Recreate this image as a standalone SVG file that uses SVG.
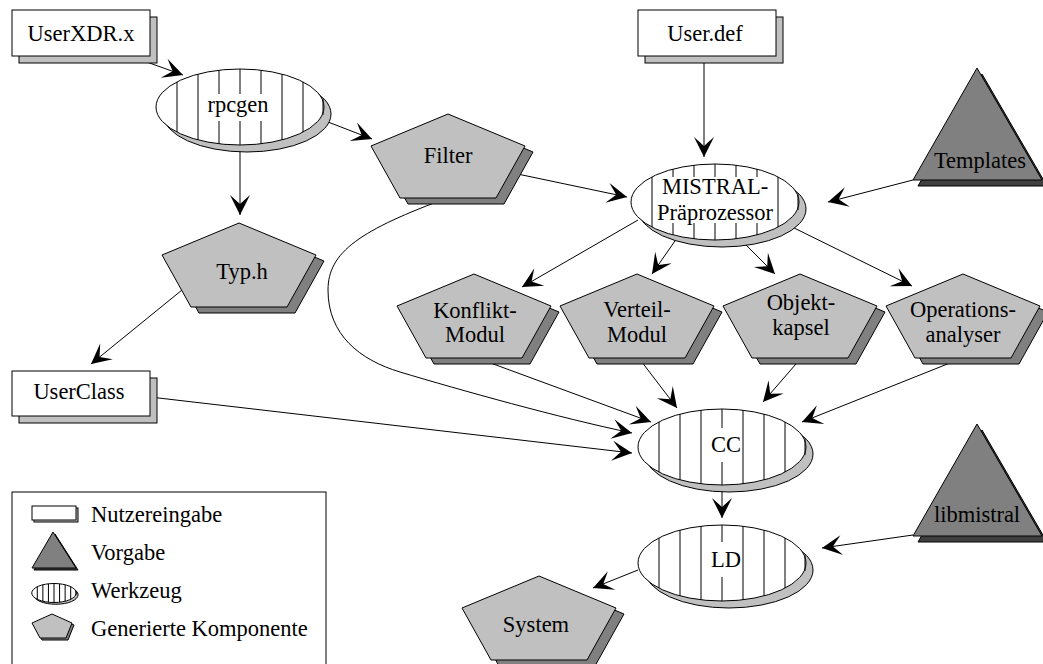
<svg xmlns="http://www.w3.org/2000/svg" xmlns:xlink="http://www.w3.org/1999/xlink" width="1043" height="664" viewBox="0 0 1043 664">
<style>
.t{font-family:"Liberation Serif","Times New Roman",serif;font-size:22.5px;text-anchor:middle;fill:#000}
.lt{font-family:"Liberation Serif","Times New Roman",serif;font-size:22.5px;fill:#000}
.box{fill:#fff;stroke:#000;stroke-width:1}
.bsh{fill:#c0c0c0;stroke:#000;stroke-width:1}
.pm{fill:#c0c0c0;stroke:#000;stroke-width:1}
.psh{fill:#808080;stroke:#000;stroke-width:1}
.tm{fill:#808080;stroke:#000;stroke-width:1}
.tsh{fill:#404040;stroke:#000;stroke-width:1}
.wb{fill:#fff;stroke:none}
.c{fill:none;stroke:#000;stroke-width:1;marker-end:url(#ah)}
</style>
<defs>
<marker id="ah" markerUnits="userSpaceOnUse" markerWidth="22" markerHeight="22" viewBox="-21 -11 22 22" refX="0" refY="0" orient="auto">
<path d="M0,0 L-20,-10 L-11,0 L-20,10 Z" fill="#000"/>
</marker>
<polygon id="pent" points="0,0 77,32 48,84 -48,84 -77,32"/>
<polygon id="tri" points="0,0 65,112 -64,112"/>
<g id="tool">
<ellipse cx="7" cy="7" rx="84" ry="38" fill="#c0c0c0" stroke="#000" vector-effect="non-scaling-stroke"/>
<ellipse cx="0" cy="0" rx="84" ry="38" fill="#fff" stroke="#000" vector-effect="non-scaling-stroke"/>
<path d="M-63,-25.1V25.1M-42,-32.9V32.9M-21,-36.8V36.8M0,-38V38M21,-36.8V36.8M42,-32.9V32.9M63,-25.1V25.1M83,-8V8" fill="none" stroke="#000" vector-effect="non-scaling-stroke"/>
</g>
</defs>

<g id="connectors">
<line class="c" x1="130" y1="56" x2="183" y2="75"/>
<line class="c" x1="240" y1="146" x2="240" y2="215"/>
<line class="c" x1="328" y1="122" x2="372" y2="139"/>
<line class="c" x1="508" y1="172" x2="627" y2="197"/>
<path class="c" d="M450,197 C360,230 328,252 328,290 C328,335 360,360 400,372 C460,390 560,418 632,433"/>
<line class="c" x1="704" y1="56" x2="704" y2="157"/>
<line class="c" x1="913" y1="180" x2="828" y2="202"/>
<line class="c" x1="182" y1="290" x2="91" y2="364"/>
<line class="c" x1="150" y1="397" x2="632" y2="453"/>
<line class="c" x1="638" y1="220" x2="522" y2="287"/>
<line class="c" x1="677" y1="238" x2="652" y2="274"/>
<line class="c" x1="743" y1="242" x2="775" y2="274"/>
<line class="c" x1="788" y1="225" x2="912" y2="286"/>
<line class="c" x1="477" y1="358" x2="651" y2="422"/>
<line class="c" x1="638" y1="357" x2="677" y2="408"/>
<line class="c" x1="802" y1="357" x2="763" y2="402"/>
<line class="c" x1="965" y1="357" x2="802" y2="422"/>
<line class="c" x1="722" y1="486" x2="722" y2="518"/>
<line class="c" x1="913" y1="535" x2="822" y2="548"/>
<line class="c" x1="638" y1="570" x2="593" y2="588"/>
</g>

<g id="userxdr">
<rect class="bsh" x="19" y="17" width="138" height="46"/>
<rect class="box" x="12" y="10" width="138" height="46"/>
<text class="t" x="81" y="41">UserXDR.x</text>
</g>

<g id="userdef">
<rect class="bsh" x="645" y="17" width="138" height="46"/>
<rect class="box" x="638" y="10" width="138" height="46"/>
<text class="t" x="705" y="41">User.def</text>
</g>

<g id="userclass">
<rect class="bsh" x="19" y="378" width="138" height="45"/>
<rect class="box" x="12" y="371" width="138" height="45"/>
<text class="t" x="79" y="399">UserClass</text>
</g>

<g id="rpcgen">
<use xlink:href="#tool" href="#tool" transform="translate(240,107)"/>
<rect class="wb" x="204" y="94" width="68" height="27"/>
<text class="t" x="238" y="112">rpcgen</text>
</g>

<g id="mistral">
<use xlink:href="#tool" href="#tool" transform="translate(715,202)"/>
<rect class="wb" x="655" y="177" width="121" height="46"/>
<text class="t" x="715" y="194">MISTRAL-</text>
<text class="t" x="715" y="220">Präprozessor</text>
</g>

<g id="cc">
<use xlink:href="#tool" href="#tool" transform="translate(722,447)"/>
<rect class="wb" x="710" y="428" width="30" height="34"/>
<text class="t" x="726" y="452">CC</text>
</g>

<g id="ld">
<use xlink:href="#tool" href="#tool" transform="translate(722,563)"/>
<rect class="wb" x="710" y="542" width="30" height="35"/>
<text class="t" x="726" y="567">LD</text>
</g>

<g id="filter">
<use xlink:href="#pent" href="#pent" class="psh" transform="translate(456,120)"/>
<use xlink:href="#pent" href="#pent" class="pm" transform="translate(448,114)"/>
<text class="t" x="448" y="163">Filter</text>
</g>

<g id="typh">
<use xlink:href="#pent" href="#pent" class="psh" transform="translate(247,229)"/>
<use xlink:href="#pent" href="#pent" class="pm" transform="translate(239,223)"/>
<text class="t" x="242" y="279">Typ.h</text>
</g>

<g id="konflikt">
<use xlink:href="#pent" href="#pent" class="psh" transform="translate(482,280)"/>
<use xlink:href="#pent" href="#pent" class="pm" transform="translate(474,274)"/>
<text class="t" x="475" y="318">Konflikt-</text>
<text class="t" x="475" y="342">Modul</text>
</g>

<g id="verteil">
<use xlink:href="#pent" href="#pent" class="psh" transform="translate(645,280)"/>
<use xlink:href="#pent" href="#pent" class="pm" transform="translate(637,274)"/>
<text class="t" x="637" y="317">Verteil-</text>
<text class="t" x="637" y="342">Modul</text>
</g>

<g id="objekt">
<use xlink:href="#pent" href="#pent" class="psh" transform="translate(808,280)"/>
<use xlink:href="#pent" href="#pent" class="pm" transform="translate(800,274)"/>
<text class="t" x="801" y="310">Objekt-</text>
<text class="t" x="801" y="335">kapsel</text>
</g>

<g id="operations">
<use xlink:href="#pent" href="#pent" class="psh" transform="translate(971,280)"/>
<use xlink:href="#pent" href="#pent" class="pm" transform="translate(963,274)"/>
<text class="t" x="963" y="317">Operations-</text>
<text class="t" x="963" y="342">analyser</text>
</g>

<g id="system">
<use xlink:href="#pent" href="#pent" class="psh" transform="translate(547,582)"/>
<use xlink:href="#pent" href="#pent" class="pm" transform="translate(539,576)"/>
<text class="t" x="536" y="632">System</text>
</g>

<g id="templates">
<use xlink:href="#tri" href="#tri" class="tsh" transform="translate(982,74)"/>
<use xlink:href="#tri" href="#tri" class="tm" transform="translate(977,68)"/>
<text class="t" x="980" y="168">Templates</text>
</g>

<g id="libmistral">
<use xlink:href="#tri" href="#tri" class="tsh" transform="translate(982,430)"/>
<use xlink:href="#tri" href="#tri" class="tm" transform="translate(977,424)"/>
<text class="t" x="977" y="522">libmistral</text>
</g>

<g id="legend">
<rect class="box" x="12" y="492" width="314" height="180"/>
<rect class="bsh" x="34" y="508" width="44" height="14"/>
<rect class="box" x="32" y="506" width="44" height="14"/>
<text class="lt" x="91" y="522">Nutzereingabe</text>
<polygon class="tsh" points="55,534 78,570 34,570"/>
<polygon class="tm" points="53,532 76,568 32,568"/>
<text class="lt" x="91" y="560">Vorgabe</text>
<use xlink:href="#tool" href="#tool" transform="translate(54,593) scale(0.265,0.25)"/>
<text class="lt" x="91" y="598">Werkzeug</text>
<polygon class="psh" points="54,616 74,625 68,640 42,640 34,625"/>
<polygon class="pm" points="52,614 72,623 66,638 40,638 32,623"/>
<text class="lt" x="91" y="636">Generierte Komponente</text>
</g>
</svg>
